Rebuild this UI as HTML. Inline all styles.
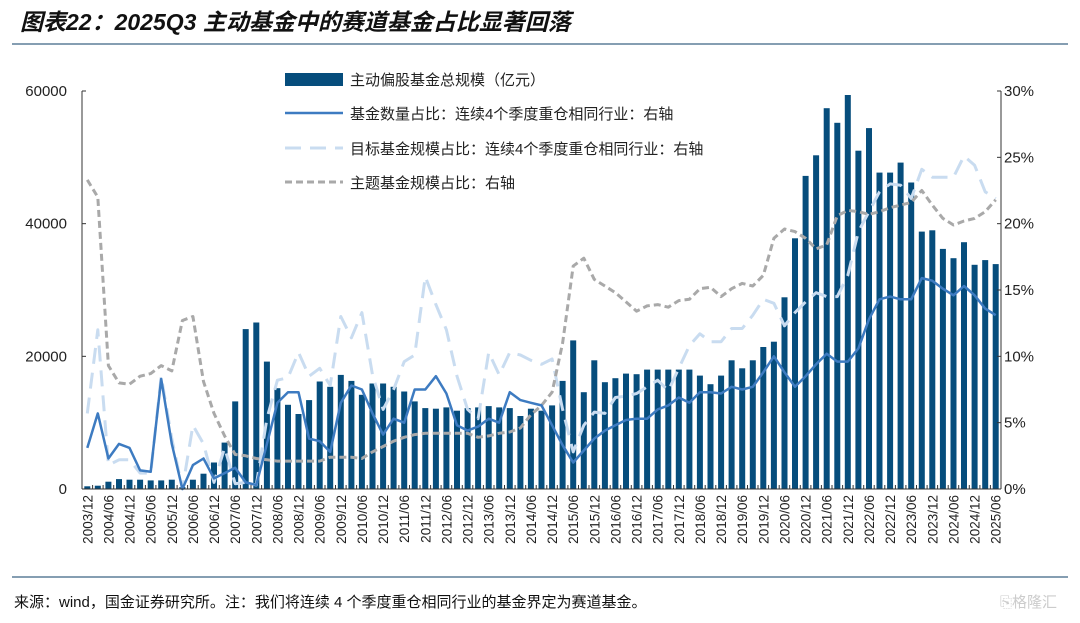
<!DOCTYPE html>
<html><head><meta charset="utf-8"><style>
body{margin:0;background:#fff;}
svg text{font-family:"Liberation Sans","Noto Sans CJK SC",sans-serif;}
</style></head><body>
<svg id="c" width="1080" height="618" xmlns="http://www.w3.org/2000/svg">
<text x="20" y="30" font-size="23" font-style="italic" font-weight="bold" fill="#111">图表22：2025Q3 主动基金中的赛道基金占比显著回落</text>
<line x1="12" y1="44" x2="1068" y2="44" stroke="#5d7f99" stroke-width="1.5"/>
<line x1="12" y1="577" x2="1068" y2="577" stroke="#5d7f99" stroke-width="1.5"/>
<text x="14" y="607" font-size="15" fill="#111">来源：wind，国金证券研究所。注：我们将连续 4 个季度重仓相同行业的基金界定为赛道基金。</text>
<text x="1000" y="607" font-size="15" fill="#ccc">⎘格隆汇</text>
<g id="g"></g>
</svg>
<script>
const bars=[400,500,1100,1500,1400,1400,1300,1300,1400,300,1400,2300,4000,7000,13200,24100,25100,19200,15200,12700,11300,13400,16200,15400,17200,16300,14200,15900,15900,15400,14700,13200,12200,12100,12300,11800,12200,12300,12500,12300,12200,11000,12100,11800,12600,16300,22400,14600,19400,16100,16700,17400,17300,18000,18000,18000,18000,18000,17100,15800,17100,19400,18200,19400,21400,22200,28900,37800,47200,50300,57400,55200,59400,51000,54400,47700,47700,49200,46200,38800,39000,36200,34800,37200,33800,34500,33900];
const solid=[3.1,5.7,2.3,3.4,3.1,1.4,1.3,8.3,3.4,0,1.8,2.3,0.8,1.2,1.6,0.5,0.3,3.4,6.5,7.3,7.3,3.8,3.6,2.8,6.5,7.8,7.5,5.7,4.1,5.3,5.0,7.5,7.5,8.5,7.2,4.8,4.4,4.7,5.3,5.0,7.3,6.7,6.5,6.3,4.8,3.3,2.0,2.9,3.8,4.4,4.8,5.2,5.3,5.3,6.0,6.3,6.9,6.5,7.3,7.3,7.2,7.7,7.5,7.7,8.8,10.0,8.8,7.7,8.5,9.4,10.2,9.6,9.6,10.6,12.8,14.3,14.5,14.3,14.3,15.9,15.7,15.1,14.6,15.3,14.6,13.6,13.1];
const gray=[23.3,22.0,9.3,8.0,7.9,8.5,8.7,9.3,8.9,12.7,13.0,8.1,5.7,4.0,2.6,2.5,2.3,2.2,2.1,2.1,2.1,2.1,2.1,2.4,2.4,2.4,2.3,2.8,3.2,3.6,3.9,4.1,4.2,4.2,4.2,4.2,4.2,3.9,4.0,4.2,4.3,4.6,5.6,6.3,7.3,11.0,16.8,17.4,15.8,15.3,14.8,14.1,13.4,13.8,13.9,13.7,14.2,14.3,15.1,15.2,14.5,15.1,15.5,15.3,16.1,18.9,19.6,19.4,18.9,18.1,18.4,20.6,21.0,20.9,20.7,20.9,21.2,21.4,21.6,22.5,21.4,20.4,19.9,20.2,20.4,20.9,21.8];
const light=[5.7,12.0,1.8,2.2,2.2,1.2,1.2,8.5,3.8,0,4.8,3.4,0.5,3.1,0.4,0.5,0.3,5.3,8.2,8.4,10.3,8.5,9.1,7.8,13.0,11.4,13.3,8.6,6.0,7.5,9.6,10.1,16.0,13.9,12.0,8.5,6.0,5.3,10.3,8.6,10.3,10.1,9.7,9.4,9.8,6.0,2.8,4.8,5.8,5.7,6.9,7.0,7.2,7.7,8.2,7.4,9.1,10.8,11.7,11.1,11.1,12.1,12.1,13.1,14.3,14.0,12.3,13.3,14.1,14.8,14.5,14.5,16.1,19.4,20.9,22.4,23.0,22.9,21.9,24.1,23.5,23.5,23.5,25.1,24.4,22.4,21.9];
const X0=82,X1=1001,Y0=489,Y1=91,n=87,sp=(X1-X0)/n;
const cx=i=>X0+sp*(i+0.5), yv=v=>Y0-v*(Y0-Y1)/60000, yp=p=>Y0-p*(Y0-Y1)/30;
let s='';
bars.forEach((v,i)=>{s+=`<rect x="${(cx(i)-3).toFixed(1)}" y="${yv(v).toFixed(1)}" width="6" height="${(Y0-yv(v)).toFixed(1)}" fill="#064d7c"/>`;});
const pl=(a,st,w,da)=>`<polyline fill="none" stroke="${st}" stroke-width="${w}" ${da?'stroke-dasharray="'+da+'"':''} stroke-linejoin="round" points="${a.map((p,i)=>cx(i).toFixed(1)+','+yp(p).toFixed(1)).join(' ')}"/>`;
s+=pl(light,'#c9dcf0',3,'16 9');
s+=pl(gray,'#a9a9a9',3,'7 4');
s+=pl(solid,'#3d7bc1',2.5,'');
s+=`<line x1="${X0}" y1="${Y1}" x2="${X0}" y2="${Y0}" stroke="#333" stroke-width="1"/>`;
s+=`<line x1="${X1}" y1="${Y1}" x2="${X1}" y2="${Y0}" stroke="#333" stroke-width="1"/>`;
s+=`<line x1="${X0}" y1="${Y0}" x2="${X1}" y2="${Y0}" stroke="#333" stroke-width="1"/>`;
[0,20000,40000,60000].forEach(v=>{const y=yv(v);s+=`<line x1="${X0}" y1="${y}" x2="${X0+4}" y2="${y}" stroke="#333"/><text x="67" y="${y+5}" font-size="15" text-anchor="end" fill="#222">${v}</text>`;});
[0,5,10,15,20,25,30].forEach(p=>{const y=yp(p);s+=`<line x1="${X1-4}" y1="${y}" x2="${X1}" y2="${y}" stroke="#333"/><text x="1004" y="${y+5}" font-size="15" fill="#222">${p}%</text>`;});
for(let i=0;i<=n;i++){const x=X0+sp*i;s+=`<line x1="${x.toFixed(1)}" y1="${Y0}" x2="${x.toFixed(1)}" y2="${Y0-4}" stroke="#333"/>`;}
for(let i=0;i<n;i+=2){const y=2003+Math.floor((i+11)/4), m=((i/2)%2==0)?'12':'06';const yr=m=='12'?2003+i/4:2004+(i-2)/4;
 s+=`<text transform="translate(${(cx(i)+5).toFixed(1)},495) rotate(-90)" font-size="13.5" text-anchor="end" fill="#222">${yr}/${m}</text>`;}
// legend
s+=`<rect x="285" y="73" width="58" height="13" fill="#064d7c"/><text x="350" y="85" font-size="15" fill="#222">主动偏股基金总规模（亿元）</text>`;
s+=`<line x1="285" y1="113" x2="343" y2="113" stroke="#3d7bc1" stroke-width="2.5"/><text x="350" y="119" font-size="15" fill="#222">基金数量占比：连续4个季度重仓相同行业：右轴</text>`;
s+=`<line x1="285" y1="148" x2="343" y2="148" stroke="#c9dcf0" stroke-width="3" stroke-dasharray="16 9"/><text x="350" y="154" font-size="15" fill="#222">目标基金规模占比：连续4个季度重仓相同行业：右轴</text>`;
s+=`<line x1="285" y1="182" x2="343" y2="182" stroke="#a9a9a9" stroke-width="3" stroke-dasharray="7 4"/><text x="350" y="188" font-size="15" fill="#222">主题基金规模占比：右轴</text>`;
document.getElementById('g').innerHTML=s;
</script>
</body></html>
